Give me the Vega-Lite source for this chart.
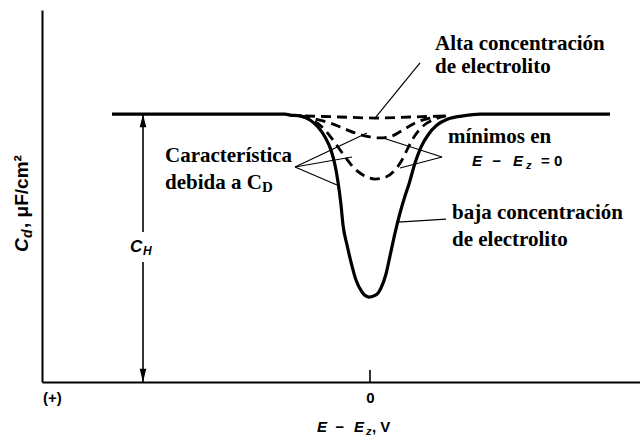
{
  "$schema": "https://vega.github.io/schema/vega-lite/v6.json",
  "width": 598,
  "height": 372,
  "autosize": {"type": "none"},
  "padding": {"left": 42, "top": 10, "right": 0, "bottom": 57},
  "background": "white",
  "config": {
    "view": {"stroke": null},
    "text": {"color": "black"}
  },
  "datasets": {
    "curvas": [
      {"curva": "baja", "E": 0.258, "C": 18.0},
      {"curva": "baja", "E": 0.085, "C": 18.0},
      {"curva": "baja", "E": 0.080, "C": 17.94},
      {"curva": "baja", "E": 0.070, "C": 17.88},
      {"curva": "baja", "E": 0.060, "C": 17.61},
      {"curva": "baja", "E": 0.052, "C": 17.14},
      {"curva": "baja", "E": 0.045, "C": 16.47},
      {"curva": "baja", "E": 0.039, "C": 15.59},
      {"curva": "baja", "E": 0.035, "C": 14.58},
      {"curva": "baja", "E": 0.032, "C": 13.44},
      {"curva": "baja", "E": 0.029, "C": 11.90},
      {"curva": "baja", "E": 0.027, "C": 10.55},
      {"curva": "baja", "E": 0.023, "C": 9.21},
      {"curva": "baja", "E": 0.019, "C": 8.06},
      {"curva": "baja", "E": 0.014, "C": 6.85},
      {"curva": "baja", "E": 0.008, "C": 6.05},
      {"curva": "baja", "E": 0.001, "C": 5.71},
      {"curva": "baja", "E": -0.006, "C": 5.85},
      {"curva": "baja", "E": -0.011, "C": 6.32},
      {"curva": "baja", "E": -0.016, "C": 7.26},
      {"curva": "baja", "E": -0.020, "C": 8.47},
      {"curva": "baja", "E": -0.025, "C": 10.01},
      {"curva": "baja", "E": -0.030, "C": 11.36},
      {"curva": "baja", "E": -0.035, "C": 12.50},
      {"curva": "baja", "E": -0.039, "C": 13.31},
      {"curva": "baja", "E": -0.045, "C": 14.72},
      {"curva": "baja", "E": -0.051, "C": 15.79},
      {"curva": "baja", "E": -0.058, "C": 16.60},
      {"curva": "baja", "E": -0.067, "C": 17.27},
      {"curva": "baja", "E": -0.078, "C": 17.67},
      {"curva": "baja", "E": -0.093, "C": 17.88},
      {"curva": "baja", "E": -0.110, "C": 18.0},
      {"curva": "baja", "E": -0.240, "C": 18.0},

      {"curva": "alta", "E": 0.065, "C": 17.88},
      {"curva": "alta", "E": 0.030, "C": 17.81},
      {"curva": "alta", "E": -0.005, "C": 17.74},
      {"curva": "alta", "E": -0.040, "C": 17.81},
      {"curva": "alta", "E": -0.075, "C": 17.88},

      {"curva": "media", "E": 0.070, "C": 17.88},
      {"curva": "media", "E": 0.055, "C": 17.67},
      {"curva": "media", "E": 0.040, "C": 17.41},
      {"curva": "media", "E": 0.025, "C": 17.00},
      {"curva": "media", "E": 0.012, "C": 16.67},
      {"curva": "media", "E": 0.000, "C": 16.47},
      {"curva": "media", "E": -0.010, "C": 16.40},
      {"curva": "media", "E": -0.022, "C": 16.53},
      {"curva": "media", "E": -0.033, "C": 16.94},
      {"curva": "media", "E": -0.045, "C": 17.41},
      {"curva": "media", "E": -0.060, "C": 17.74},
      {"curva": "media", "E": -0.075, "C": 17.88},

      {"curva": "intermedia", "E": 0.070, "C": 17.88},
      {"curva": "intermedia", "E": 0.058, "C": 17.61},
      {"curva": "intermedia", "E": 0.048, "C": 17.14},
      {"curva": "intermedia", "E": 0.040, "C": 16.53},
      {"curva": "intermedia", "E": 0.032, "C": 15.79},
      {"curva": "intermedia", "E": 0.024, "C": 15.05},
      {"curva": "intermedia", "E": 0.016, "C": 14.38},
      {"curva": "intermedia", "E": 0.007, "C": 13.91},
      {"curva": "intermedia", "E": -0.005, "C": 13.64},
      {"curva": "intermedia", "E": -0.016, "C": 13.78},
      {"curva": "intermedia", "E": -0.025, "C": 14.25},
      {"curva": "intermedia", "E": -0.032, "C": 14.92},
      {"curva": "intermedia", "E": -0.038, "C": 15.73},
      {"curva": "intermedia", "E": -0.044, "C": 16.47},
      {"curva": "intermedia", "E": -0.052, "C": 17.14},
      {"curva": "intermedia", "E": -0.063, "C": 17.61},
      {"curva": "intermedia", "E": -0.076, "C": 17.88}
    ],
    "guias": [
      {"E": -0.005, "C": 17.74, "E2": -0.050, "C2": 21.44},
      {"E": 0.075, "C": 14.45, "E2": 0.003, "C2": 16.73},
      {"E": 0.075, "C": 14.45, "E2": 0.018, "C2": 15.12},
      {"E": 0.075, "C": 14.45, "E2": 0.033, "C2": 13.24},
      {"E": -0.072, "C": 15.12, "E2": -0.013, "C2": 16.40},
      {"E": -0.072, "C": 15.12, "E2": -0.030, "C2": 14.38},
      {"E": -0.028, "C": 10.75, "E2": -0.076, "C2": 10.95}
    ],
    "flecha": [
      {"E": 0.227, "C": 18.0, "E2": 0.227, "C2": 10.08},
      {"E": 0.227, "C": 8.06, "E2": 0.227, "C2": 0.0},
      {"E": 0.0, "C": 0.0, "E2": 0.0, "C2": 0.8}
    ],
    "puntas": [
      {"sentido": "arriba", "E": 0.227, "C": 18.0},
      {"sentido": "abajo", "E": 0.227, "C": 0.0}
    ],
    "rotulos": [
      {"t": "Alta concentración", "E": -0.065, "C": 22.31},
      {"t": "de electrolito", "E": -0.065, "C": 20.77},
      {"t": "mínimos en", "E": -0.078, "C": 16.06},
      {"t": "baja concentración", "E": -0.082, "C": 10.95},
      {"t": "de electrolito", "E": -0.082, "C": 9.14},
      {"t": "Característica", "E": 0.205, "C": 14.78},
      {"t": "debida a C", "E": 0.205, "C": 12.97}
    ],
    "subrotulos": [
      {"t": "D", "E": 0.108, "C": 12.77}
    ],
    "cursivas": [
      {"t": "E", "E": -0.102, "C": 14.52},
      {"t": "−", "E": -0.122, "C": 14.52},
      {"t": "E", "E": -0.143, "C": 14.52},
      {"t": "E", "E": 0.053, "C": -3.36},
      {"t": "−", "E": 0.035, "C": -3.36},
      {"t": "E", "E": 0.016, "C": -3.36}
    ],
    "rectas": [
      {"t": "=", "E": -0.171, "C": 14.52},
      {"t": "0", "E": -0.184, "C": 14.52},
      {"t": ", V", "E": -0.002, "C": -3.36},
      {"t": "(+)", "E": 0.327, "C": -1.41}
    ],
    "subindices": [
      {"t": "z", "E": -0.156, "C": 14.31},
      {"t": "z", "E": 0.004, "C": -3.53}
    ],
    "ch": [
      {"t": "C", "E": 0.240, "C": 8.74}
    ],
    "ch_sub": [
      {"t": "H", "E": 0.227, "C": 8.53}
    ],
    "titulo_y": [
      {"t": "C", "E": 0.342, "C": 8.74}
    ],
    "titulo_y_sub": [
      {"t": "d", "E": 0.338, "C": 9.68}
    ],
    "titulo_y_resto": [
      {"t": ", μF/cm²", "E": 0.342, "C": 10.35}
    ]
  },
  "encoding": {
    "x": {
      "field": "E",
      "type": "quantitative",
      "scale": {"domain": [-0.27, 0.328], "reverse": true, "nice": false, "zero": false},
      "axis": {
        "values": [0],
        "format": "d",
        "ticks": false,
        "grid": false,
        "title": null,
        "domainColor": "black",
        "domainWidth": 2,
        "labelFont": "Liberation Sans",
        "labelFontSize": 15,
        "labelFontWeight": "bold",
        "labelColor": "black",
        "labelPadding": 8
      }
    },
    "y": {
      "field": "C",
      "type": "quantitative",
      "scale": {"domain": [0, 25], "nice": false, "zero": false},
      "axis": {
        "ticks": false,
        "labels": false,
        "grid": false,
        "title": null,
        "domainColor": "black",
        "domainWidth": 2
      }
    }
  },
  "layer": [
    {
      "data": {"name": "curvas"},
      "transform": [{"filter": "datum.curva === 'baja'"}],
      "mark": {"type": "line", "color": "black", "strokeWidth": 3.2, "interpolate": "monotone"}
    },
    {
      "data": {"name": "curvas"},
      "transform": [{"filter": "datum.curva !== 'baja'"}],
      "mark": {"type": "line", "color": "black", "strokeWidth": 2.8, "strokeDash": [10, 6], "interpolate": "monotone"},
      "encoding": {"detail": {"field": "curva"}}
    },
    {
      "data": {"name": "guias"},
      "mark": {"type": "rule", "color": "black", "strokeWidth": 1.2},
      "encoding": {"x2": {"field": "E2"}, "y2": {"field": "C2"}}
    },
    {
      "data": {"name": "flecha"},
      "mark": {"type": "rule", "color": "black", "strokeWidth": 1.6},
      "encoding": {"x2": {"field": "E2"}, "y2": {"field": "C2"}}
    },
    {
      "data": {"name": "puntas"},
      "transform": [{"filter": "datum.sentido === 'arriba'"}],
      "mark": {"type": "point", "shape": "M0,0L-0.55,2.2L0.55,2.2Z", "size": 144, "filled": true, "color": "black", "opacity": 1}
    },
    {
      "data": {"name": "puntas"},
      "transform": [{"filter": "datum.sentido === 'abajo'"}],
      "mark": {"type": "point", "shape": "M0,0L-0.55,-2.2L0.55,-2.2Z", "size": 144, "filled": true, "color": "black", "opacity": 1}
    },
    {
      "data": {"name": "rotulos"},
      "mark": {"type": "text", "font": "Liberation Serif", "fontWeight": "bold", "fontSize": 21, "align": "left", "baseline": "alphabetic"},
      "encoding": {"text": {"field": "t"}}
    },
    {
      "data": {"name": "subrotulos"},
      "mark": {"type": "text", "font": "Liberation Serif", "fontWeight": "bold", "fontSize": 15, "align": "left", "baseline": "alphabetic"},
      "encoding": {"text": {"field": "t"}}
    },
    {
      "data": {"name": "cursivas"},
      "mark": {"type": "text", "font": "Liberation Sans", "fontWeight": "bold", "fontStyle": "italic", "fontSize": 15, "align": "left", "baseline": "alphabetic"},
      "encoding": {"text": {"field": "t"}}
    },
    {
      "data": {"name": "rectas"},
      "mark": {"type": "text", "font": "Liberation Sans", "fontWeight": "bold", "fontSize": 15, "align": "left", "baseline": "alphabetic"},
      "encoding": {"text": {"field": "t"}}
    },
    {
      "data": {"name": "subindices"},
      "mark": {"type": "text", "font": "Liberation Sans", "fontWeight": "bold", "fontStyle": "italic", "fontSize": 11, "align": "left", "baseline": "alphabetic"},
      "encoding": {"text": {"field": "t"}}
    },
    {
      "data": {"name": "ch"},
      "mark": {"type": "text", "font": "Liberation Sans", "fontWeight": "bold", "fontStyle": "italic", "fontSize": 17, "align": "left", "baseline": "alphabetic"},
      "encoding": {"text": {"field": "t"}}
    },
    {
      "data": {"name": "ch_sub"},
      "mark": {"type": "text", "font": "Liberation Sans", "fontWeight": "bold", "fontStyle": "italic", "fontSize": 12, "align": "left", "baseline": "alphabetic"},
      "encoding": {"text": {"field": "t"}}
    },
    {
      "data": {"name": "titulo_y"},
      "mark": {"type": "text", "font": "Liberation Sans", "fontWeight": "bold", "fontStyle": "italic", "fontSize": 19, "angle": 270, "align": "left", "baseline": "alphabetic"},
      "encoding": {"text": {"field": "t"}}
    },
    {
      "data": {"name": "titulo_y_sub"},
      "mark": {"type": "text", "font": "Liberation Sans", "fontWeight": "bold", "fontStyle": "italic", "fontSize": 14, "angle": 270, "align": "left", "baseline": "alphabetic"},
      "encoding": {"text": {"field": "t"}}
    },
    {
      "data": {"name": "titulo_y_resto"},
      "mark": {"type": "text", "font": "Liberation Sans", "fontWeight": "bold", "fontSize": 19, "angle": 270, "align": "left", "baseline": "alphabetic"},
      "encoding": {"text": {"field": "t"}}
    }
  ]
}
